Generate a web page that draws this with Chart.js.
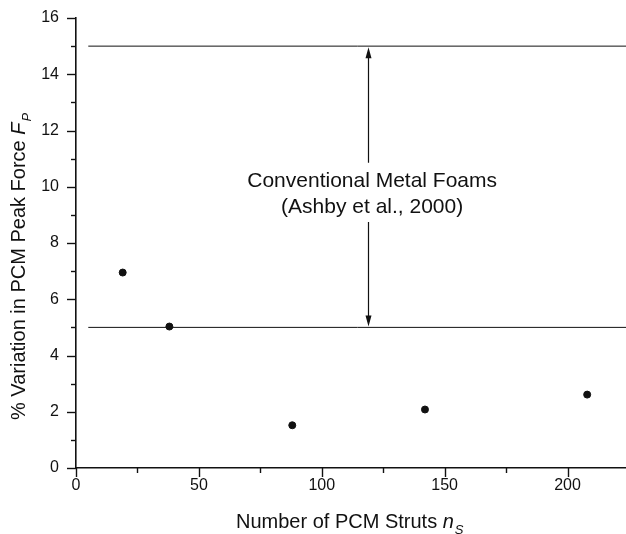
<!DOCTYPE html>
<html lang="en">
<head>
  <meta charset="UTF-8" />
  <title>PCM peak force variation</title>
  <style>
    *{box-sizing:border-box}
    body{margin:0;background:#fff;overflow:hidden}
    #wrap{width:626px;height:534px;overflow:hidden}
  </style>
</head>
<body>
  <div id="wrap"><canvas id="chart" width="631" height="534"></canvas></div>

  <script src="https://cdn.jsdelivr.net/npm/chart.js"></script>
  <script>
  // data
  const struts = [19, 38, 88, 142, 208];
  const variation = [6.95, 5.03, 1.52, 2.08, 2.61];
  const foamLow = 5, foamHigh = 15;
  const bandStartX = 5;
  const arrowX = 119;
  const noteLines = ['Conventional Metal Foams', '(Ashby et al., 2000)'];
  const xMax = 224, yMax = 16;

  const FONT = "'Liberation Sans', Arial, sans-serif";
  const INK = '#111';

  // minor + major ticks, arrow, note and axis titles
  const decor = {
    id: 'decor',
    afterDraw(chart) {
      const { ctx, scales: { x, y }, chartArea: a } = chart;
      ctx.save();
      ctx.strokeStyle = INK; ctx.fillStyle = INK; ctx.lineWidth = 1.4;

      // ticks on y (outward)
      for (let v = 0; v <= yMax; v++) {
        const py = Math.round(y.getPixelForValue(v)) + 0.5;
        const len = v % 2 === 0 ? 9 : 5;
        ctx.beginPath(); ctx.moveTo(a.left, py); ctx.lineTo(a.left - len, py); ctx.stroke();
      }
      // ticks on x (outward)
      for (let v = 0; v <= xMax; v += 25) {
        const px = Math.round(x.getPixelForValue(v)) + 0.5;
        const len = v % 50 === 0 ? 9 : 5;
        ctx.beginPath(); ctx.moveTo(px, a.bottom); ctx.lineTo(px, a.bottom + len); ctx.stroke();
      }

      // double arrow between the two bounds, broken by the note
      const ax = Math.round(x.getPixelForValue(arrowX)) + 0.5;
      const top = y.getPixelForValue(foamHigh), bot = y.getPixelForValue(foamLow);
      const gapTop = y.getPixelForValue(10.85), gapBot = y.getPixelForValue(8.75);
      ctx.lineWidth = 1.2;
      ctx.beginPath();
      ctx.moveTo(ax, top + 8); ctx.lineTo(ax, gapTop);
      ctx.moveTo(ax, gapBot); ctx.lineTo(ax, bot - 8);
      ctx.stroke();
      ctx.beginPath();
      ctx.moveTo(ax, top + 1); ctx.lineTo(ax - 3, top + 12); ctx.lineTo(ax + 3, top + 12); ctx.closePath();
      ctx.moveTo(ax, bot - 1); ctx.lineTo(ax - 3, bot - 12); ctx.lineTo(ax + 3, bot - 12); ctx.closePath();
      ctx.fill();

      // note text
      ctx.font = '21px ' + FONT;
      ctx.textAlign = 'center'; ctx.textBaseline = 'alphabetic';
      const nx = x.getPixelForValue(120.5);
      ctx.fillText(noteLines[0], nx, y.getPixelForValue(10.0));
      ctx.fillText(noteLines[1], nx, y.getPixelForValue(9.07));

      // x title: Number of PCM Struts n_S
      ctx.textAlign = 'left';
      const xt = 'Number of PCM Struts ';
      ctx.font = 'italic 20px ' + FONT;
      const wn = ctx.measureText('n').width;
      ctx.font = '20px ' + FONT;
      const wx = ctx.measureText(xt).width;
      const sx = 236;
      const by = 528;
      ctx.fillText(xt, sx, by);
      ctx.font = 'italic 20px ' + FONT;
      ctx.fillText('n', sx + wx, by);
      ctx.font = 'italic 13px ' + FONT;
      ctx.fillText('S', sx + wx + wn + 1, by + 6);

      // y title: % Variation in PCM Peak Force F_P
      ctx.translate(25, 420);
      ctx.rotate(-Math.PI / 2);
      ctx.font = '20px ' + FONT;
      const yt = '% Variation in PCM Peak Force ';
      const wy = ctx.measureText(yt).width;
      ctx.fillText(yt, 0, 0);
      ctx.font = 'italic 20px ' + FONT;
      ctx.fillText('F', wy, 0);
      const wf = ctx.measureText('F').width;
      ctx.font = 'italic 13px ' + FONT;
      ctx.fillText('P', wy + wf + 1, 6);
      ctx.restore();
    }
  };

  new Chart(document.getElementById('chart'), {
    type: 'scatter',
    data: {
      datasets: [
        { data: struts.map((s, i) => ({ x: s, y: variation[i] })), backgroundColor: INK, borderColor: INK, pointRadius: 3.5, pointHoverRadius: 3.5 },
        { type: 'line', data: [{ x: bandStartX, y: foamHigh }, { x: xMax, y: foamHigh }], borderColor: INK, borderWidth: 1, pointRadius: 0 },
        { type: 'line', data: [{ x: bandStartX, y: foamLow }, { x: xMax, y: foamLow }], borderColor: INK, borderWidth: 1, pointRadius: 0 }
      ]
    },
    options: {
      responsive: false,
      animation: false,
      events: [],
      layout: { padding: { top: 18, right: 0, left: 0, bottom: 0 } },
      plugins: { legend: { display: false }, tooltip: { enabled: false } },
      scales: {
        x: {
          type: 'linear', min: 0, max: xMax,
          grid: { display: false, drawTicks: false },
          border: { display: true, color: INK, width: 1.6 },
          ticks: { stepSize: 50, includeBounds: false, padding: 8, color: INK, font: { family: FONT, size: 16 }, maxRotation: 0 },
          afterFit: s => { s.height = 66; s.paddingLeft = 0; s.paddingRight = 0; }
        },
        y: {
          min: 0, max: yMax,
          grid: { display: false, drawTicks: false },
          border: { display: true, color: INK, width: 1.6 },
          ticks: { stepSize: 2, includeBounds: false, padding: 17, color: INK, font: { family: FONT, size: 16 } },
          afterFit: s => { s.width = 76; s.paddingTop = 0; s.paddingBottom = 0; }
        }
      }
    },
    plugins: [decor]
  });
  </script>
</body>
</html>
